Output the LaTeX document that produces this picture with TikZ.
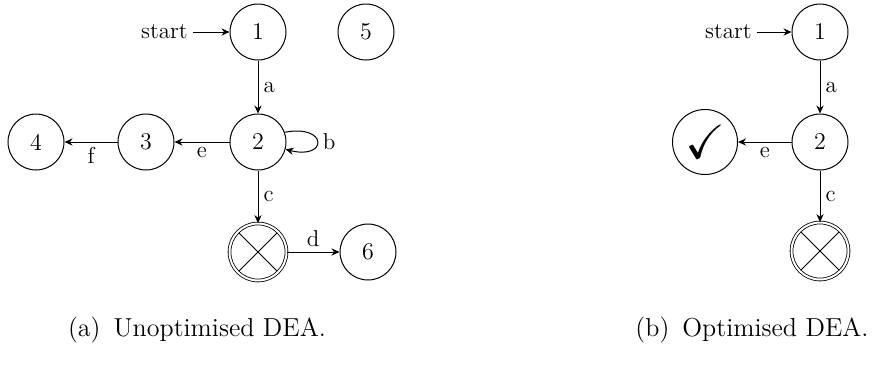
\documentclass[tikz,border=0pt]{standalone}
\usepackage{amssymb}
\usetikzlibrary{arrows.meta}
\begin{document}
\begin{tikzpicture}[x=0.5pt,y=-0.5pt,
  every node/.style={font=\fontsize{11.5}{13}\selectfont},
  state/.style={circle,draw,line width=0.5pt,minimum size=28pt,inner sep=0pt,font=\fontsize{12}{14}\selectfont},
  okstate/.style={state,minimum size=32.5pt},
  failstate/.style={circle,draw,line width=0.4pt,minimum size=28.5pt,inner sep=0pt,
    double,double distance=1pt,
    path picture={\draw[line width=0.4pt] (path picture bounding box.north west) -- (path picture bounding box.south east)
      (path picture bounding box.north east) -- (path picture bounding box.south west);}},
  trans/.style={->,line width=0.5pt,>={Stealth[length=4pt,width=3.6pt,inset=1.3pt]}},
  lbl/.style={inner sep=2.5pt},
  caption/.style={font=\fontsize{13}{15}\selectfont}
]
\useasboundingbox (0,0) rectangle (878,365);

% ---- (a) ----
\node[state] (a1) at (258,32) {1};
\node[state] (a5) at (366,32) {5};
\node[state] (a2) at (258,142) {2};
\node[state] (a3) at (146,142) {3};
\node[state] (a4) at (36,142) {4};
\node[failstate] (ax) at (258,252) {};
\node[state] (a6) at (368,252) {6};
\node[anchor=east,inner sep=2.5pt] (astart) at (193,32) {start};

\draw[trans] (astart) -- (a1);
\draw[trans] (a1) -- node[lbl,right] {a} (a2);
\draw[trans] (a2.20) .. controls (328,124) and (328,160) .. node[lbl,right] {b} (a2.-15);
\draw[trans] (a2) -- node[lbl,below] {e} (a3);
\draw[trans] (a3) -- node[lbl,below] {f} (a4);
\draw[trans] (a2) -- node[lbl,right] {c} (ax);
\draw[trans] (ax) -- node[lbl,above] {d} (a6);

\node[caption] (capa) at (197,330) {(a)\enspace Unoptimised DEA.};

% ---- (b) ----
\node[state] (b1) at (820,32) {1};
\node[state] (b2) at (820,142) {2};
\node[okstate] (bok) at (705,142) {\fontsize{24}{26}\selectfont$\checkmark$};
\node[failstate] (bx) at (820,251) {};
\node[anchor=east,inner sep=2.5pt] (bstart) at (757,32) {start};

\draw[trans] (bstart) -- (b1);
\draw[trans] (b1) -- node[lbl,right] {a} (b2);
\draw[trans] (b2) -- node[lbl,below] {e} (bok);
\draw[trans] (b2) -- node[lbl,right] {c} (bx);

\node[caption] (capb) at (752,330) {(b)\enspace Optimised DEA.};
\end{tikzpicture}
\end{document}
